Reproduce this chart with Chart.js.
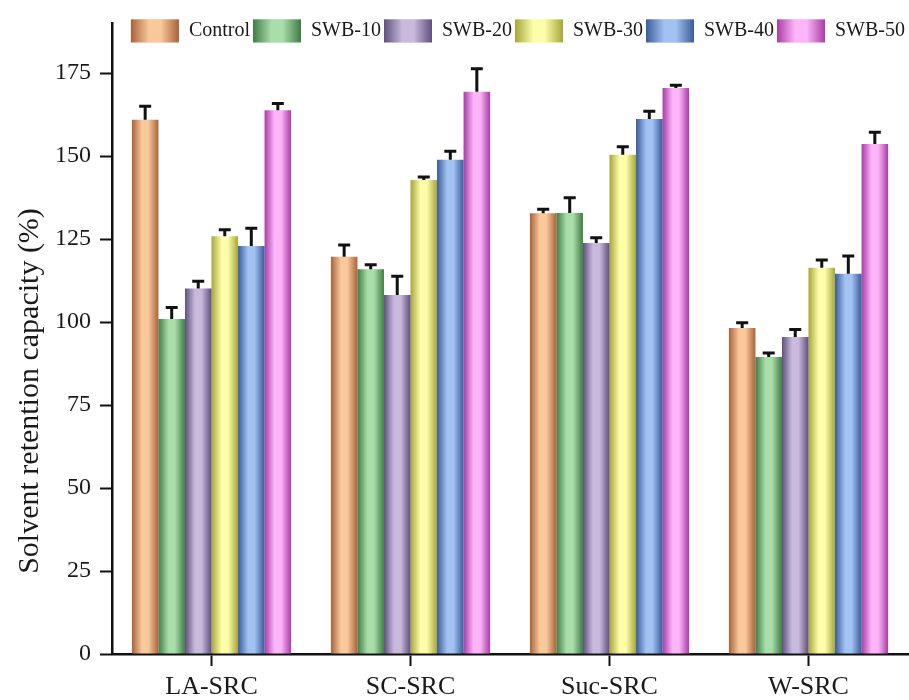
<!DOCTYPE html>
<html>
<head>
<meta charset="utf-8">
<script src="https://cdn.jsdelivr.net/npm/chart.js@4.4.0/dist/chart.umd.min.js"></script>
<style>
  html, body { margin: 0; padding: 0; background: #fff; }
  #wrap { width: 909px; height: 700px; }
</style>
</head>
<body>
<div id="wrap"><canvas id="grafico"></canvas></div>
<script>
const categorias = ['LA-SRC', 'SC-SRC', 'Suc-SRC', 'W-SRC'];
const series = ['Control', 'SWB-10', 'SWB-20', 'SWB-30', 'SWB-40', 'SWB-50'];

const control = [161.0, 119.7, 132.8, 98.2];
const controlErr = [4.0, 3.5, 1.2, 1.6];
const swb10 = [100.9, 115.9, 132.9, 89.5];
const swb10Err = [3.5, 1.4, 4.6, 1.2];
const swb20 = [110.1, 108.2, 123.8, 95.5];
const swb20Err = [2.2, 5.6, 1.6, 2.3];
const swb30 = [125.9, 142.8, 150.4, 116.4];
const swb30Err = [1.9, 0.9, 2.4, 2.3];
const swb40 = [122.9, 148.9, 161.2, 114.6];
const swb40Err = [5.4, 2.6, 2.3, 5.3];
const swb50 = [163.8, 169.4, 170.5, 153.7];
const swb50Err = [2.1, 6.9, 0.9, 3.5];

const yTicks = [0, 25, 50, 75, 100, 125, 150, 175];
const tituloY = 'Solvent retention capacity (%)';

// cor escura (bordas) e clara (centro) de cada serie
const cores = [
    ['#a8623a', '#f9c99b'],
    ['#3f7c47', '#a9dda9'],
    ['#5e507c', '#c9b9dd'],
    ['#a6a63a', '#fdfdaa'],
    ['#3a5b9a', '#a2c2f2'],
    ['#a83ca8', '#fcb6f8']
];

const valores = [control, swb10, swb20, swb30, swb40, swb50];
const erros = [controlErr, swb10Err, swb20Err, swb30Err, swb40Err, swb50Err];

function gradiente(ctx, x0, x1, i) {
    const g = ctx.createLinearGradient(x0, 0, x1, 0);
    g.addColorStop(0, cores[i][0]);
    g.addColorStop(0.38, cores[i][1]);
    g.addColorStop(0.62, cores[i][1]);
    g.addColorStop(1, cores[i][0]);
    return g;
}

const FONTE = '"Liberation Serif", "Times New Roman", serif';

const pluginGradiente = {
    id: 'gradiente',
    beforeLayout(chart) {
        // legenda desenhada dentro da area do grafico, sem ocupar espaco
        const legend = chart.legend;
        if (legend && !legend._semAltura) {
            const fitOriginal = legend.fit;
            legend.fit = function () {
                fitOriginal.call(this);
                this._alturaReal = this.height;
                this.height = 0;
            };
            legend._semAltura = true;
        }
    },
    afterLayout(chart) {
        const legend = chart.legend;
        if (legend) {
            legend.top -= 7;
            legend.height = legend._alturaReal || 0;
            legend.bottom = legend.top + legend.height;
        }
    },
    beforeDatasetsDraw(chart) {
        chart.data.datasets.forEach((ds, i) => {
            const meta = chart.getDatasetMeta(i);
            meta.data.forEach(el => {
                const { x, width } = el.getProps(['x', 'width'], true);
                const g = gradiente(chart.ctx, x - width / 2, x + width / 2, i);
                el.options = Object.assign({}, el.options, { backgroundColor: g });
            });
        });
    },
    afterDatasetsDraw(chart) {
        const ctx = chart.ctx;
        const yScale = chart.scales.y;
        ctx.save();
        ctx.strokeStyle = '#111';
        ctx.lineWidth = 3;
        chart.data.datasets.forEach((ds, i) => {
            const meta = chart.getDatasetMeta(i);
            meta.data.forEach((el, j) => {
                const topo = yScale.getPixelForValue(valores[i][j] + erros[i][j]);
                const base = yScale.getPixelForValue(valores[i][j]);
                ctx.beginPath();
                ctx.moveTo(el.x, base);
                ctx.lineTo(el.x, topo);
                ctx.moveTo(el.x - 6, topo);
                ctx.lineTo(el.x + 6, topo);
                ctx.stroke();
            });
        });
        ctx.restore();
    },
    afterDraw(chart) {
        const ctx = chart.ctx;
        const legend = chart.legend;
        if (legend && legend.legendHitBoxes) {
            const bw = legend.options.labels.boxWidth;
            const bh = legend.options.labels.boxHeight;
            legend.legendHitBoxes.forEach((hb, i) => {
                ctx.fillStyle = gradiente(ctx, hb.left, hb.left + bw, i);
                ctx.fillRect(hb.left, hb.top, bw, bh);
            });
        }
        // titulo do eixo y
        ctx.save();
        ctx.translate(30, 391);
        ctx.rotate(-Math.PI / 2);
        ctx.fillStyle = '#1a1a1a';
        ctx.font = '30px ' + FONTE;
        ctx.textAlign = 'center';
        ctx.textBaseline = 'middle';
        ctx.fillText(tituloY, 0, 0);
        ctx.restore();
    }
};

const ctx = document.getElementById('grafico').getContext('2d');

new Chart(ctx, {
    type: 'bar',
    data: {
        labels: categorias,
        datasets: series.map((nome, i) => ({
            label: nome,
            data: valores[i],
            backgroundColor: cores[i][1],
            borderWidth: 0,
            categoryPercentage: 0.8,
            barPercentage: 1.0
        }))
    },
    options: {
        responsive: true,
        maintainAspectRatio: false,
        animation: false,
        layout: { padding: { top: 12, right: 1, left: 0, bottom: 0 } },
        plugins: {
            tooltip: { enabled: false },
            legend: {
                position: 'top',
                align: 'end',
                labels: {
                    boxWidth: 48,
                    boxHeight: 23,
                    padding: 3,
                    color: '#1a1a1a',
                    font: { family: FONTE, size: 20 },
                    generateLabels(chart) {
                        return chart.data.datasets.map((ds, i) => ({
                            text: ds.label,
                            fillStyle: cores[i][1],
                            strokeStyle: 'rgba(0,0,0,0)',
                            lineWidth: 0,
                            fontColor: '#1a1a1a',
                            datasetIndex: i
                        }));
                    }
                }
            }
        },
        scales: {
            x: {
                offset: true,
                grid: {
                    offset: false,
                    drawOnChartArea: false,
                    tickLength: 12,
                    tickWidth: 2,
                    tickColor: '#111'
                },
                border: { color: '#111', width: 2.5 },
                ticks: {
                    color: '#1a1a1a',
                    padding: 6,
                    font: { family: FONTE, size: 26 }
                },
                afterFit(scale) { scale.height = 46; }
            },
            y: {
                min: 0,
                max: 190,
                afterBuildTicks(scale) {
                    scale.ticks = yTicks.map(v => ({ value: v }));
                },
                grid: {
                    drawOnChartArea: false,
                    tickLength: 12,
                    tickWidth: 2,
                    tickColor: '#111'
                },
                border: { color: '#111', width: 2.5 },
                ticks: {
                    color: '#1a1a1a',
                    padding: 9,
                    font: { family: FONTE, size: 24 }
                },
                afterFit(scale) { scale.width = 112; }
            }
        }
    },
    plugins: [pluginGradiente]
});
</script>
</body>
</html>
